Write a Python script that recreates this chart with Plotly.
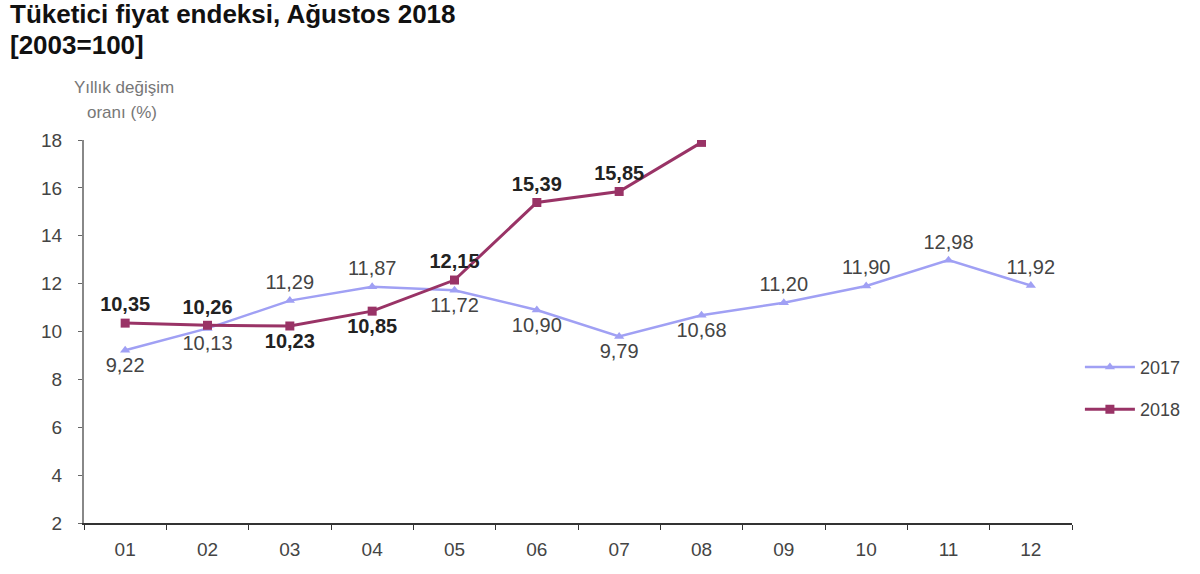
import plotly.graph_objects as go

# months on the x axis
months = ['01', '02', '03', '04', '05', '06', '07', '08', '09', '10', '11', '12']

# annual change (%) per month
cpi_2017 = [9.22, 10.13, 11.29, 11.87, 11.72, 10.90, 9.79, 10.68, 11.20, 11.90, 12.98, 11.92]
cpi_2018 = [10.35, 10.26, 10.23, 10.85, 12.15, 15.39, 15.85, 17.90]

# where each data label sits relative to its point
pos_2017 = ['bottom center', 'bottom center', 'top center', 'top center', 'bottom center',
            'bottom center', 'bottom center', 'bottom center', 'top center', 'top center',
            'top center', 'top center']
pos_2018 = ['top center', 'top center', 'bottom center', 'bottom center', 'top center',
            'top center', 'top center', 'top center']

FONT = 'Liberation Sans, Arial, sans-serif'


def fmt(values):
    # Turkish decimal comma
    return [f"{v:.2f}".replace('.', ',') for v in values]


fig = go.Figure()

fig.add_trace(go.Scatter(
    x=months, y=cpi_2017, name='2017', mode='lines+markers+text',
    line=dict(color='#a0a0f4', width=2.5),
    marker=dict(symbol='triangle-up', size=9, color='#a0a0f4'),
    text=fmt(cpi_2017), textposition=pos_2017,
    textfont=dict(family=FONT, size=20, color='#444444'),
    legendgroup='a',
))

fig.add_trace(go.Scatter(
    x=months[:len(cpi_2018)], y=cpi_2018, name='2018', mode='lines+markers+text',
    line=dict(color='#993366', width=3),
    marker=dict(symbol='square', size=9, color='#993366'),
    text=fmt(cpi_2018), textposition=pos_2018,
    textfont=dict(family=FONT, size=20, color='#222222', weight='bold'),
    legendgroup='b',
))

fig.update_layout(
    width=1200, height=574,
    margin=dict(l=84, r=128, t=140, b=51),
    plot_bgcolor='white', paper_bgcolor='white',
    font=dict(family=FONT, size=19, color='#444444'),
    legend=dict(
        x=1.008, xanchor='left', y=0.352, yanchor='middle',
        tracegroupgap=16, itemwidth=50,
        font=dict(family=FONT, size=18, color='#444444'),
        bgcolor='rgba(0,0,0,0)',
    ),
    showlegend=True,
)

fig.update_xaxes(
    type='category', range=[-0.5, 11.5], showgrid=False,
    showline=True, linecolor='#333333', linewidth=2,
    ticks='outside', tickson='boundaries', ticklen=5, tickcolor='#333333',
    ticklabelstandoff=8,
    tickfont=dict(family=FONT, size=19, color='#444444'),
)

fig.update_yaxes(
    range=[2, 18], dtick=2, showgrid=False, zeroline=False,
    showline=True, linecolor='#888888', linewidth=2,
    ticks='outside', ticklen=4, tickcolor='#666666',
    ticklabelstandoff=12,
    tickfont=dict(family=FONT, size=19, color='#444444'),
)

# two line bold title, top left
fig.add_annotation(
    text='<b>Tüketici fiyat endeksi, Ağustos 2018</b>', xref='paper', yref='paper',
    x=-0.077, y=1.329, xanchor='left', yanchor='middle', showarrow=False,
    font=dict(family=FONT, size=26, color='#111111'),
)
fig.add_annotation(
    text='<b>[2003=100]</b>', xref='paper', yref='paper',
    x=-0.077, y=1.248, xanchor='left', yanchor='middle', showarrow=False,
    font=dict(family=FONT, size=26, color='#111111'),
)

# y axis caption above the axis
fig.add_annotation(
    text='Yıllık değişim', xref='paper', yref='paper',
    x=0.0405, y=1.138, xanchor='center', yanchor='middle', showarrow=False,
    font=dict(family=FONT, size=17, color='#777777'),
)
fig.add_annotation(
    text='oranı (%)', xref='paper', yref='paper',
    x=0.0385, y=1.0705, xanchor='center', yanchor='middle', showarrow=False,
    font=dict(family=FONT, size=17, color='#777777'),
)

# drop the default page margin so the figure sits at the window corner
fig.write_html("out.html", config={'displayModeBar': False},
               post_script="document.body.style.margin='0';")
